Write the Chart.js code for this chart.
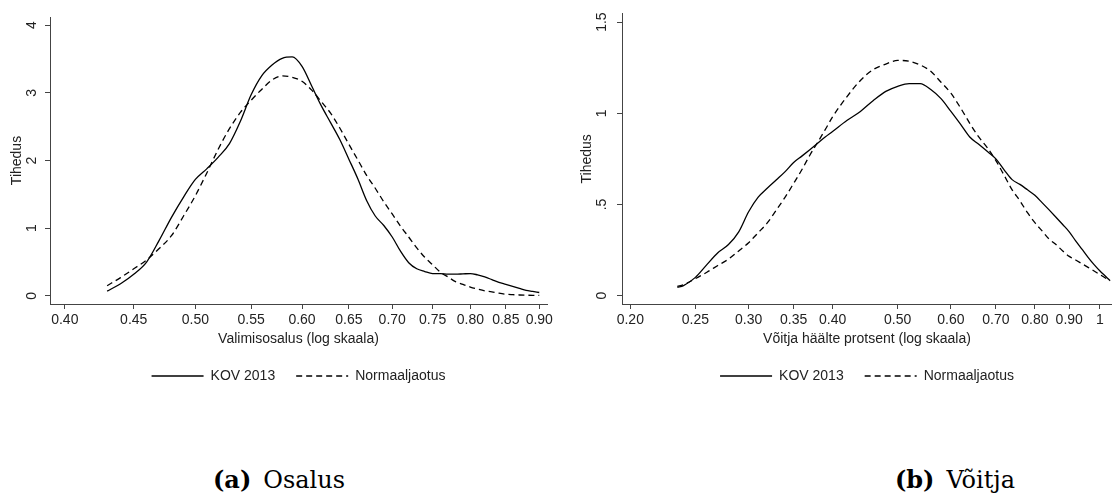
<!DOCTYPE html>
<html lang="et">
<head>
  <meta charset="UTF-8">
  <meta name="viewport" content="width=device-width, initial-scale=1.0">
  <title>Osalus ja võitja</title>
  <script src="https://cdn.jsdelivr.net/npm/chart.js"></script>
  <style>
    body {
      margin: 0;
      background: #fff;
      width: 1112px;
      height: 493px;
      position: relative;
      overflow: hidden;
    }
    .panel {
      position: absolute;
      top: 0;
      width: 556px;
      height: 400px;
    }
    #leftPanel { left: 0; }
    #rightPanel { left: 556px; }
    .caption {
      position: absolute;
      top: 465px;
      font-family: "DejaVu Serif", serif;
      font-size: 24px;
      line-height: 30px;
      color: #000;
      transform: translateX(-50%);
      white-space: nowrap;
    }
    .caption b { margin-right: 12px; }
  </style>
</head>
<body>
  <div class="panel" id="leftPanel"><canvas id="osalusChart"></canvas></div>
  <div class="panel" id="rightPanel"><canvas id="voitjaChart"></canvas></div>
  <div class="caption" style="left: 279px;"><b>(a)</b>Osalus</div>
  <div class="caption" style="left: 955px;"><b>(b)</b>Võitja</div>

  <script>
    // (a) Osalus - valimisosalus, log skaala
    const osalusX = [0.43, 0.44, 0.45, 0.46, 0.47, 0.48, 0.49, 0.50, 0.51, 0.52,
      0.53, 0.54, 0.55, 0.56, 0.57, 0.58, 0.59, 0.60, 0.61, 0.62, 0.63, 0.64,
      0.65, 0.66, 0.67, 0.68, 0.69, 0.70, 0.71, 0.72, 0.73, 0.74, 0.75, 0.76,
      0.77, 0.78, 0.79, 0.80, 0.81, 0.82, 0.83, 0.84, 0.85, 0.86, 0.87, 0.88,
      0.89, 0.90];
    const osalusKov = [0.07, 0.18, 0.32, 0.50, 0.82, 1.16, 1.46, 1.72, 1.88, 2.05,
      2.25, 2.58, 2.97, 3.25, 3.41, 3.51, 3.53, 3.39, 3.10, 2.81, 2.56, 2.31,
      2.02, 1.73, 1.41, 1.18, 1.04, 0.87, 0.66, 0.49, 0.40, 0.36, 0.33, 0.33,
      0.32, 0.32, 0.325, 0.33, 0.31, 0.28, 0.24, 0.20, 0.17, 0.14, 0.11, 0.08,
      0.065, 0.05];
    const osalusNorm = [0.15, 0.27, 0.40, 0.53, 0.70, 0.89, 1.18, 1.48, 1.82, 2.17,
      2.47, 2.71, 2.89, 3.05, 3.19, 3.25, 3.23, 3.17, 3.04, 2.87, 2.70, 2.48,
      2.24, 2.01, 1.78, 1.59, 1.39, 1.21, 1.03, 0.87, 0.71, 0.57, 0.46, 0.35,
      0.28, 0.21, 0.17, 0.13, 0.10, 0.075, 0.06, 0.04, 0.025, 0.018, 0.013, 0.01,
      0.008, 0.007];
    const osalusXTicks = [0.40, 0.45, 0.50, 0.55, 0.60, 0.65, 0.70, 0.75, 0.80, 0.85, 0.90];
    const osalusXLabels = ['0.40', '0.45', '0.50', '0.55', '0.60', '0.65', '0.70', '0.75', '0.80', '0.85', '0.90'];
    const osalusYTicks = [0, 1, 2, 3, 4];
    const osalusYLabels = ['0', '1', '2', '3', '4'];

    // (b) Võitja - võitja häälte protsent, log skaala
    const voitjaX = [0.235, 0.24, 0.25, 0.26, 0.27, 0.28, 0.29, 0.30, 0.31, 0.32,
      0.33, 0.34, 0.35, 0.36, 0.37, 0.38, 0.39, 0.40, 0.42, 0.44, 0.46, 0.48,
      0.50, 0.52, 0.54, 0.56, 0.58, 0.60, 0.62, 0.64, 0.66, 0.68, 0.70, 0.72,
      0.74, 0.76, 0.78, 0.80, 0.82, 0.84, 0.86, 0.88, 0.90, 0.92, 0.94, 0.96,
      0.98, 1.00, 1.02, 1.035];
    const voitjaKov = [0.045, 0.055, 0.10, 0.17, 0.235, 0.28, 0.35, 0.46, 0.54, 0.59,
      0.635, 0.68, 0.73, 0.765, 0.80, 0.835, 0.87, 0.90, 0.96, 1.01, 1.07, 1.12,
      1.148, 1.163, 1.162, 1.13, 1.08, 1.01, 0.94, 0.87, 0.83, 0.79, 0.75, 0.69,
      0.636, 0.61, 0.58, 0.55, 0.51, 0.47, 0.43, 0.39, 0.35, 0.30, 0.255, 0.21,
      0.17, 0.135, 0.105, 0.082];
    const voitjaNorm = [0.05, 0.06, 0.093, 0.128, 0.165, 0.20, 0.245, 0.29, 0.345, 0.40,
      0.47, 0.54, 0.615, 0.69, 0.77, 0.84, 0.91, 0.98, 1.09, 1.18, 1.24, 1.27,
      1.29, 1.285, 1.265, 1.23, 1.17, 1.11, 1.03, 0.945, 0.87, 0.81, 0.74, 0.66,
      0.58, 0.52, 0.455, 0.40, 0.355, 0.31, 0.28, 0.245, 0.215, 0.195, 0.175, 0.155,
      0.135, 0.115, 0.095, 0.082];
    const voitjaXTicks = [0.20, 0.25, 0.30, 0.35, 0.40, 0.50, 0.60, 0.70, 0.80, 0.90, 1];
    const voitjaXLabels = ['0.20', '0.25', '0.30', '0.35', '0.40', '0.50', '0.60', '0.70', '0.80', '0.90', '1'];
    const voitjaYTicks = [0, 0.5, 1, 1.5];
    const voitjaYLabels = ['0', '.5', '1', '1.5'];

    const seriesNames = ['KOV 2013', 'Normaaljaotus'];

    const axisColor = '#444';
    const textColor = '#222';
    const font = { family: '"Liberation Sans", Arial, sans-serif', size: 14 };

    function densityChart(id, p) {
      const points = ys => p.x.map((x, i) => ({ x: x, y: ys[i] }));
      return new Chart(document.getElementById(id), {
        type: 'line',
        data: {
          datasets: [{
            label: seriesNames[0],
            data: points(p.kov),
            borderColor: '#000',
            borderWidth: 1.3,
            pointRadius: 0,
            cubicInterpolationMode: 'monotone'
          }, {
            label: seriesNames[1],
            data: points(p.norm),
            borderColor: '#000',
            borderWidth: 1.3,
            borderDash: [6, 4],
            pointRadius: 0,
            cubicInterpolationMode: 'monotone'
          }]
        },
        options: {
          responsive: true,
          maintainAspectRatio: false,
          animation: false,
          layout: { padding: { top: 7, right: p.padRight, bottom: 7, left: 0 } },
          plugins: {
            tooltip: { enabled: false },
            legend: {
              position: 'bottom',
              fullSize: false,
              labels: {
                usePointStyle: true,
                pointStyle: 'line',
                pointStyleWidth: 52,
                boxWidth: 52,
                padding: 21,
                color: textColor,
                font: font,
                // point style legend loses the dash, so take it from the dataset
                generateLabels: chart => {
                  const items = Chart.defaults.plugins.legend.labels.generateLabels(chart);
                  items.forEach(item => {
                    const ds = chart.data.datasets[item.datasetIndex];
                    item.lineDash = ds.borderDash || [];
                    item.lineWidth = ds.borderWidth;
                    item.strokeStyle = ds.borderColor;
                  });
                  return items;
                }
              }
            }
          },
          scales: {
            x: {
              type: 'logarithmic',
              min: p.xMin,
              max: p.xMax,
              afterBuildTicks: s => { s.ticks = p.xTicks.map(v => ({ value: v })); },
              afterFit: s => { s.height = 44; },
              grid: { drawOnChartArea: false, drawTicks: true, tickLength: 5, color: axisColor },
              border: { color: axisColor, width: 1 },
              ticks: {
                autoSkip: false,
                maxRotation: 0,
                padding: 3,
                color: textColor,
                font: font,
                callback: (v, i) => p.xLabels[i]
              },
              title: { display: true, text: p.xTitle, color: textColor, font: font, padding: 0 }
            },
            y: {
              min: p.yMin,
              max: p.yMax,
              afterBuildTicks: s => { s.ticks = p.yTicks.map(v => ({ value: v })); },
              afterFit: s => { s.width = p.yWidth; },
              grid: { drawOnChartArea: false, drawTicks: true, tickLength: 5, color: axisColor },
              border: { color: axisColor, width: 1 },
              ticks: {
                minRotation: 90,
                maxRotation: 90,
                crossAlign: 'center',
                padding: p.yTickPad,
                color: textColor,
                font: font,
                callback: (v, i) => p.yLabels[i]
              },
              title: { display: true, text: 'Tihedus', color: textColor, font: font, padding: { top: p.yTitlePad } }
            }
          }
        }
      });
    }

    densityChart('osalusChart', {
      x: osalusX, kov: osalusKov, norm: osalusNorm,
      xMin: 0.3938, xMax: 0.912, xTicks: osalusXTicks, xLabels: osalusXLabels,
      yMin: -0.12, yMax: 4.12, yTicks: osalusYTicks, yLabels: osalusYLabels,
      xTitle: 'Valimisosalus (log skaala)',
      yWidth: 50, yTickPad: 8.6, yTitlePad: 8.6, padRight: 8
    });

    densityChart('voitjaChart', {
      x: voitjaX, kov: voitjaKov, norm: voitjaNorm,
      xMin: 0.1944, xMax: 1.042, xTicks: voitjaXTicks, xLabels: voitjaXLabels,
      yMin: -0.046, yMax: 1.546, yTicks: voitjaYTicks, yLabels: voitjaYLabels,
      xTitle: 'Võitja häälte protsent (log skaala)',
      yWidth: 66, yTickPad: 5.3, yTitlePad: 23, padRight: 0
    });
  </script>
</body>
</html>
